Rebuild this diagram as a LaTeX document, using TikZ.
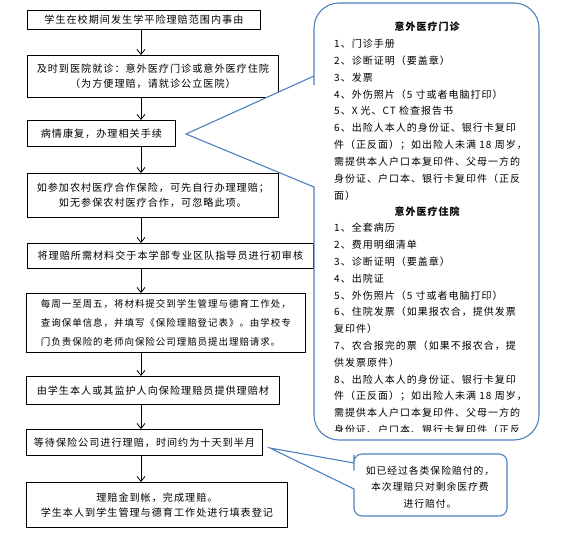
\documentclass[tikz,border=0pt]{standalone}
\usepackage{fontspec}
\setmainfont{Noto Sans CJK SC}[LetterSpace=10]
\usepackage{xcolor}
\usetikzlibrary{arrows.meta}
\definecolor{calloutblue}{RGB}{79,129,189}

\begin{document}
\begin{tikzpicture}[x=1pt,y=-1pt,>={Straight Barb[length=5pt,width=8pt]},
  flowbox/.style={draw,line width=0.8pt,anchor=north west,inner sep=0pt,align=center,font=\fontsize{10.1}{15}\selectfont},
  callout/.style={draw=calloutblue,line width=1.1pt,fill=white},
  item/.style={anchor=west,inner sep=0pt,font=\fontsize{10}{12}\selectfont},
  head/.style={inner sep=0pt,font=\bfseries\fontsize{10}{12}\selectfont}]
\useasboundingbox[fill=white] (0,0) rectangle (567,539);
% flow boxes
\node[flowbox,minimum width=233pt,minimum height=19pt] (b1) at (27,10) {学生在校期间发生学平险理赔范围内事由};
\node[flowbox,minimum width=251pt,minimum height=42pt] (b2) at (27,55) {及时到医院就诊：意外医疗门诊或意外医疗住院\\（为方便理赔，请就诊公立医院）};
\node[flowbox,minimum width=148pt,minimum height=26pt] (b3) at (27,120) {病情康复，办理相关手续};
\node[flowbox,minimum width=251pt,minimum height=44pt,font=\fontsize{10.1}{14.5}\selectfont] (b4) at (27,173) {如参加农村医疗合作保险，可先自行办理理赔；\\如无参保农村医疗合作，可忽略此项。};
\node[flowbox,minimum width=286pt,minimum height=25pt] (b5) at (27,243) {将理赔所需材料交于本学部专业区队指导员进行初审核};
\node[flowbox,minimum width=279pt,minimum height=59pt,align=left,font=\fontsize{9.5}{19}\selectfont] (b6) at (26,293) {每周一至周五，将材料提交到学生管理与德育工作处，\\查询保单信息，并填写《保险理赔登记表》。由学校专\\门负责保险的老师向保险公司理赔员提出理赔请求。};
\node[flowbox,minimum width=253pt,minimum height=28pt] (b7) at (26,376) {由学生本人或其监护人向保险理赔员提供理赔材};
\node[flowbox,minimum width=236pt,minimum height=26pt] (b8) at (26,429) {等待保险公司进行理赔，时间约为十天到半月};
\node[flowbox,minimum width=261pt,minimum height=45pt] (b9) at (26,482) {理赔金到帐，完成理赔。\\学生本人到学生管理与德育工作处进行填表登记};
\coordinate (ax) at (141,0);
\foreach \a/\b in {b1/b2,b2/b3,b3/b4,b4/b5,b5/b6,b6/b7,b7/b8,b8/b9}
  \draw[->,line width=0.8pt] (\a.south -| ax) -- (\b.north -| ax);
% big callout
\draw[callout] (186,134) -- (314,187) -- (314,300) [rounded corners=25pt] -- (314,440) -- (539,440) -- (539,3) -- (314,3) -- (314,60) [sharp corners] -- (314,76) -- cycle;
\begin{scope}
\clip (316,5) rectangle (537,431);
\node[head] (h1) at (427,27) {意外医疗门诊};
\foreach \t [count=\i] in {{1、门诊手册},{2、诊断证明（要盖章）},{3、发票},{4、外伤照片（5 寸或者电脑打印）},{5、X 光、CT 检查报告书},{6、出险人本人的身份证、银行卡复印},{件（正反面）；如出险人未满 18 周岁，},{需提供本人户口本复印件、父母一方的},{身份证、户口本、银行卡复印件（正反},{面）}}
  \node[item] (m\i) at (334,{44+16.8*(\i-1)}) {\t};
\node[head] (h2) at (427,212) {意外医疗住院};
\foreach \t [count=\i] in {{1、全套病历},{2、费用明细清单},{3、诊断证明（要盖章）},{4、出院证},{5、外伤照片（5 寸或者电脑打印）},{6、住院发票（如果报农合，提供发票},{复印件）},{7、农合报完的票（如果不报农合，提},{供发票原件）},{8、出险人本人的身份证、银行卡复印},{件（正反面）；如出险人未满 18 周岁，},{需提供本人户口本复印件、父母一方的},{身份证、户口本、银行卡复印件（正反}}
  \node[item] (z\i) at (334,{228+16.8*(\i-1)}) {\t};
\end{scope}
% small callout
\draw[callout] (270,448) -- (354,489) -- (354,500) [rounded corners=8pt] -- (354,516) -- (507,516) -- (507,454) -- (354,454) -- (354,462.5) [sharp corners] -- (354,463) -- cycle;
\node[align=center,inner sep=0pt,font=\fontsize{9.8}{16.5}\selectfont] (note) at (430,487) {如已经过各类保险赔付的，\\本次理赔只对剩余医疗费\\进行赔付。};
\end{tikzpicture}
\end{document}
